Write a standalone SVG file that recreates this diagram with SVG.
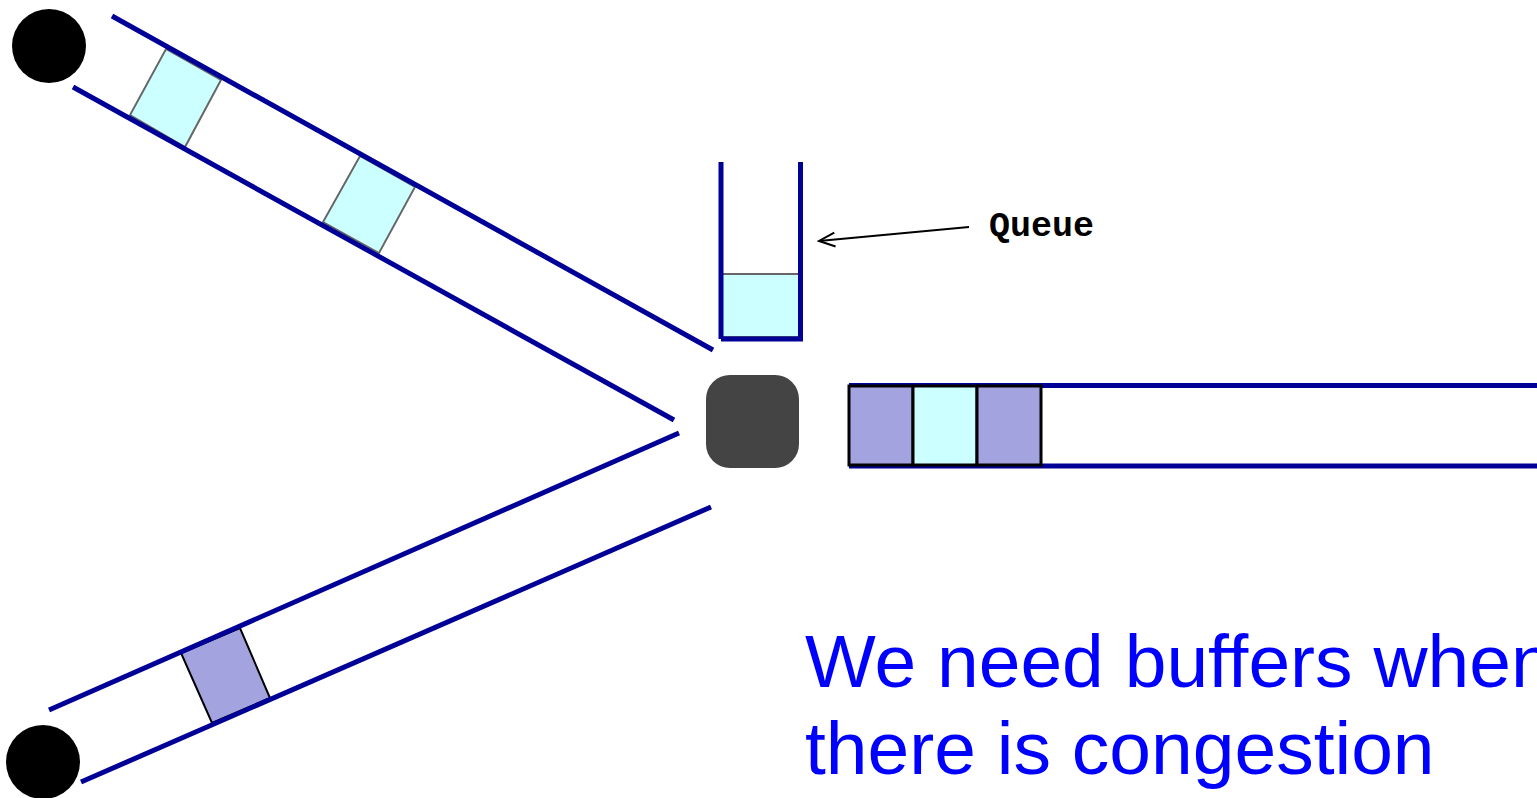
<svg xmlns="http://www.w3.org/2000/svg" width="1537" height="798" viewBox="0 0 1537 798">
  <style>
    .wire { stroke: #000096; stroke-width: 5; fill: none; }
    .pkt-a { fill: #CCFFFF; stroke: #666666; stroke-width: 2; }
    .pkt-b { fill: #A3A3DF; stroke: #000000; stroke-width: 2; }
    .pkt-c { stroke: #000000; stroke-width: 3; }
    .host { fill: #000000; }
    .label { font-family: "Liberation Mono", "DejaVu Sans Mono", monospace; font-weight: bold; font-size: 35px; fill: #000000; }
    .caption { font-family: "Liberation Sans", Arial, sans-serif; font-size: 75px; fill: #0000FF; }
  </style>
  <defs>
    <marker id="openArrow" viewBox="0 0 20 20" refX="18" refY="10" markerWidth="20" markerHeight="20" markerUnits="userSpaceOnUse" orient="auto">
      <path d="M2,3 L18,10 L2,17" fill="none" stroke="#000000" stroke-width="2"/>
    </marker>
  </defs>

  <!-- sending hosts -->
  <g id="host-top">
    <circle class="host" cx="49" cy="46" r="37"/>
  </g>
  <g id="host-bottom">
    <circle class="host" cx="43" cy="762" r="37"/>
  </g>

  <!-- router -->
  <g id="router">
    <rect x="706" y="375" width="93" height="93" rx="24" ry="24" fill="#444444"/>
  </g>

  <!-- router buffer -->
  <g id="queue">
    <rect class="pkt-a" x="721" y="274" width="80" height="63"/>
    <line class="wire" x1="721" y1="162" x2="721" y2="339"/>
    <line class="wire" x1="800.5" y1="162" x2="800.5" y2="339"/>
    <line class="wire" x1="721" y1="339" x2="803" y2="339" stroke-width="3"/>
  </g>

  <g id="queue-label">
    <text class="label" x="989" y="236">Queue</text>
  </g>

  <!-- links and packets -->
  <g id="connectors">
    <!-- upper input link -->
    <polygon class="pkt-a" points="166,49 221,80 185,147 130,115"/>
    <polygon class="pkt-a" points="360,156 415,187 379,253 323,222"/>
    <line class="wire" x1="112" y1="16" x2="713" y2="350"/>
    <line class="wire" x1="73" y1="87" x2="674" y2="420"/>

    <!-- lower input link -->
    <polygon class="pkt-b" points="181,653 240,628 270,698 212,723"/>
    <line class="wire" x1="49" y1="710" x2="679" y2="433"/>
    <line class="wire" x1="81" y1="782" x2="711" y2="507"/>

    <!-- output link -->
    <line class="wire" x1="849" y1="385.5" x2="1537" y2="385.5"/>
    <line class="wire" x1="849" y1="466" x2="1537" y2="466"/>
    <rect class="pkt-c" x="849" y="386" width="64" height="79" fill="#A3A3DF"/>
    <rect class="pkt-c" x="913" y="386" width="64" height="79" fill="#CCFFFF"/>
    <rect class="pkt-c" x="977" y="386" width="64" height="79" fill="#A3A3DF"/>

    <!-- pointer to the buffer -->
    <line x1="969" y1="227" x2="819" y2="241" stroke="#000000" stroke-width="2" marker-end="url(#openArrow)"/>
  </g>

  <g id="caption">
    <text class="caption" x="805" y="687">We need buffers when</text>
    <text class="caption" x="805" y="774">there is congestion</text>
  </g>
</svg>
